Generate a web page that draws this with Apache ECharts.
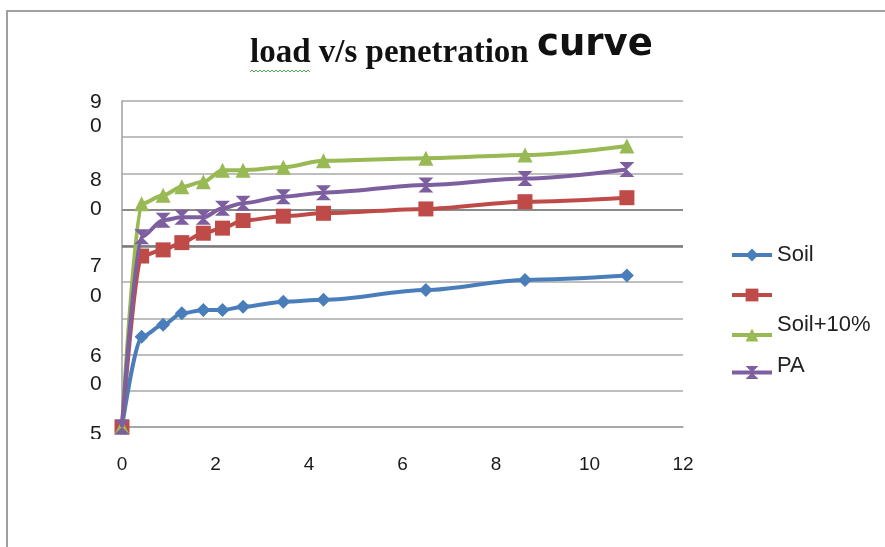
<!DOCTYPE html>
<html>
<head>
<meta charset="utf-8">
<script src="https://cdn.jsdelivr.net/npm/echarts@6/dist/echarts.min.js"></script>
<style>html,body{margin:0;padding:0;background:#fff}#c{width:885px;height:547px}</style>
</head>
<body>
<div id="c"></div>
<script>
// ---- data ----
const penetration = [0, 0.42, 0.88, 1.28, 1.74, 2.15, 2.59, 3.45, 4.31, 6.5, 8.62, 10.8];
const soil        = [0, 24.9, 28.2, 31.4, 32.3, 32.3, 33.2, 34.6, 35.1, 37.8, 40.6, 41.8];
const unnamed     = [0, 47.2, 48.9, 50.9, 53.5, 54.9, 57.0, 58.2, 59.0, 60.2, 62.2, 63.3];
const soil10      = [0, 61.6, 64.0, 66.3, 67.7, 70.9, 70.9, 71.7, 73.5, 74.2, 75.1, 77.6];
const pa          = [0, 52.5, 57.1, 57.9, 57.9, 60.4, 61.8, 63.6, 64.7, 66.8, 68.6, 71.1];
const seriesNames = ['Soil', ' ', 'Soil+10%', 'PA'];
const yTickLabels = ['9', '0', '8', '0', '7', '0', '6', '0', '5'];
const titleSerif = 'load v/s penetration';
const titleSans = 'curve';

const colors = ['#4A7EBB', '#BE4B48', '#98B954', '#7D5FA0'];
const symbols = ['diamond', 'rect', 'triangle', 'path://M0,0 L10,0 L5,5 L10,10 L0,10 L5,5 Z'];
const symbolSizes = [14, 15, 15, 15];
const allValues = [soil, unnamed, soil10, pa];

const pair = (ys) => penetration.map((x, i) => [x, ys[i]]);

const series = allValues.map((ys, k) => ({
  name: seriesNames[k],
  type: 'line',
  data: pair(ys),
  smooth: 0.3,
  smoothMonotone: 'x',
  symbol: symbols[k],
  symbolSize: symbolSizes[k],
  showAllSymbol: true,
  lineStyle: { color: colors[k], width: 4 },
  itemStyle: { color: colors[k], borderWidth: 0 },
  z: 3 + k
}));
series[0].markLine = {
  silent: true, symbol: 'none', label: { show: false },
  data: [
    { yAxis: 50, lineStyle: { color: '#7a7a7a', width: 2.5, type: 'solid' } },
    { yAxis: 60, lineStyle: { color: '#8a8a8a', width: 2, type: 'solid' } }
  ],
  z: 1
};

// y tick label positions (pixel) as seen in the reference
const yLabelY = [103, 127, 181, 210, 267, 297, 357, 385, 435];
const graphics = [];
yTickLabels.forEach((t, i) => {
  graphics.push({ type: 'text', left: 90, top: yLabelY[i] - 11, z: 10,
    style: { text: t, font: '21px "Liberation Sans", Arial, sans-serif', fill: '#1a1a1a' } });
});
graphics.push({ type: 'rect', shape: { x: 84, y: 439, width: 26, height: 12 }, style: { fill: '#fff' }, z: 11 });
// frame
graphics.push({ type: 'polyline', shape: { points: [[7, 547], [7, 11], [885, 11]] },
  style: { stroke: '#a0a0a0', lineWidth: 2, fill: null }, z: 1 });
// title
graphics.push({ type: 'text', left: 250, top: 37, z: 10,
  style: { text: titleSerif, font: 'bold 33px "Liberation Serif", "Times New Roman", serif', fill: '#111' } });
graphics.push({ type: 'text', left: 537, top: 27, z: 10,
  style: { text: titleSans, font: 'bold 37px "DejaVu Sans", sans-serif', fill: '#111' } });
// green wavy underline under "load" (spell-check mark)
const wave = [];
for (let x = 250; x <= 311; x += 2) wave.push([x, (x / 2) % 2 === 0 ? 70 : 72]);
graphics.push({ type: 'polyline', shape: { points: wave }, style: { stroke: '#4caf50', lineWidth: 1, fill: null }, z: 10 });

const legendTops = [244, 284, 314, 355];
const legendPads = [0, 0, 20, 13];
const legends = seriesNames.map((n, k) => ({
  data: [n], orient: 'vertical', left: 730, top: legendTops[k], padding: 0,
  itemWidth: 40, itemHeight: 16, selectedMode: false,
  lineStyle: { width: 4 },
  formatter: '{t|{name}}',
  textStyle: {
    color: '#222',
    rich: { t: { fontSize: 22, lineHeight: 22, fontFamily: '"Liberation Sans", Arial, sans-serif', color: '#222',
      padding: [0, 0, legendPads[k], 0] } }
  }
}));

const chart = echarts.init(document.getElementById('c'), null, { renderer: 'canvas' });
chart.setOption({
  animation: false,
  backgroundColor: '#fff',
  color: colors,
  grid: { left: 122, right: 202, top: 101, bottom: 120, containLabel: false },
  xAxis: {
    type: 'value', min: 0, max: 12, interval: 2,
    axisLine: { show: true, lineStyle: { color: '#a0a0a0', width: 1.5 } },
    axisTick: { show: false },
    splitLine: { show: false },
    axisLabel: { margin: 28, fontSize: 19, color: '#1a1a1a', fontFamily: '"Liberation Sans", Arial, sans-serif' }
  },
  yAxis: {
    type: 'value', min: 0, max: 90, interval: 10,
    axisLine: { show: true, lineStyle: { color: '#a0a0a0', width: 1.5 } },
    axisTick: { show: false },
    axisLabel: { show: false },
    splitLine: { show: true, lineStyle: { color: '#a8a8a8', width: 1.5 } }
  },
  legend: legends,
  series: series,
  graphic: graphics
});
</script>
</body>
</html>
